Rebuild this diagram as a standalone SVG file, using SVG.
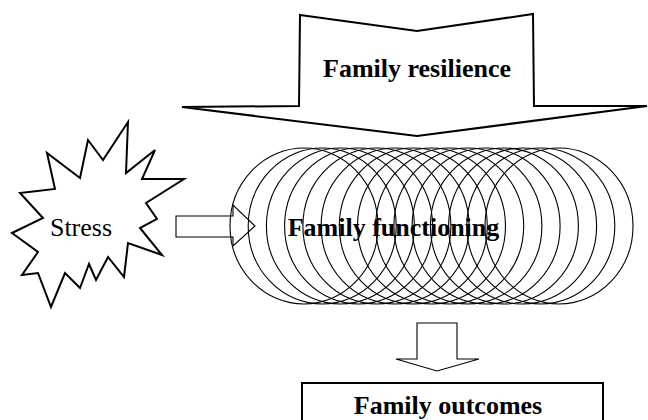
<svg xmlns="http://www.w3.org/2000/svg" width="648" height="420" viewBox="0 0 648 420">
<style>
.lbl{font-family:"Liberation Serif","Times New Roman",serif;font-size:26px;fill:#000;text-anchor:middle}
.b{font-weight:bold}
.thick{fill:#fff;stroke:#000;stroke-width:2;stroke-linejoin:miter}
.thin{fill:#fff;stroke:#000;stroke-width:1.1}
.ring{fill:none;stroke:#000;stroke-width:1.1}
</style>
<rect width="648" height="420" fill="#fff"/>
<g id="resilience">
<polygon class="thick" points="300,15 417,31 533,14 534,106 647,106 417,136 182,107 299,106"/>
<text class="lbl b" x="417" y="77">Family resilience</text>
</g>
<g id="stress">
<polygon class="thick" points="128,122 126,173 155,150 142,179 184,179 146,203 157,219 140,228 162,255 128,243 124,277 108,257 96,280 89,264 80,288 65,273 51,307 38,273 22,275 38,252 12,233 43,218 20,193 55,189 47,153 80,178 88,140 103,160"/>
<text class="lbl" x="81" y="236">Stress</text>
</g>
<g id="connectors">
<polygon class="thin" points="176,216 233,216 233,205 255,226 233,246 233,237 176,237"/>
<polygon class="thin" points="417,323 457,323 457,359 479,359 437,371 396,359 417,359"/>
</g>
<g id="functioning">
<ellipse class="ring" cx="304" cy="226" rx="74" ry="78"/>
<ellipse class="ring" cx="322.2" cy="226" rx="74" ry="78"/>
<ellipse class="ring" cx="340.4" cy="226" rx="74" ry="78"/>
<ellipse class="ring" cx="358.6" cy="226" rx="74" ry="78"/>
<ellipse class="ring" cx="376.9" cy="226" rx="74" ry="78"/>
<ellipse class="ring" cx="395.1" cy="226" rx="74" ry="78"/>
<ellipse class="ring" cx="413.3" cy="226" rx="74" ry="78"/>
<ellipse class="ring" cx="431.5" cy="226" rx="74" ry="78"/>
<ellipse class="ring" cx="449.7" cy="226" rx="74" ry="78"/>
<ellipse class="ring" cx="467.9" cy="226" rx="74" ry="78"/>
<ellipse class="ring" cx="486.1" cy="226" rx="74" ry="78"/>
<ellipse class="ring" cx="504.4" cy="226" rx="74" ry="78"/>
<ellipse class="ring" cx="522.6" cy="226" rx="74" ry="78"/>
<ellipse class="ring" cx="540.8" cy="226" rx="74" ry="78"/>
<ellipse class="ring" cx="559" cy="226" rx="74" ry="78"/>
<text class="lbl b" x="393.5" y="236">Family functioning</text>
</g>
<g id="outcomes">
<rect class="thick" x="302" y="383" width="301" height="50"/>
<text class="lbl b" x="448" y="414">Family outcomes</text>
</g>
</svg>
